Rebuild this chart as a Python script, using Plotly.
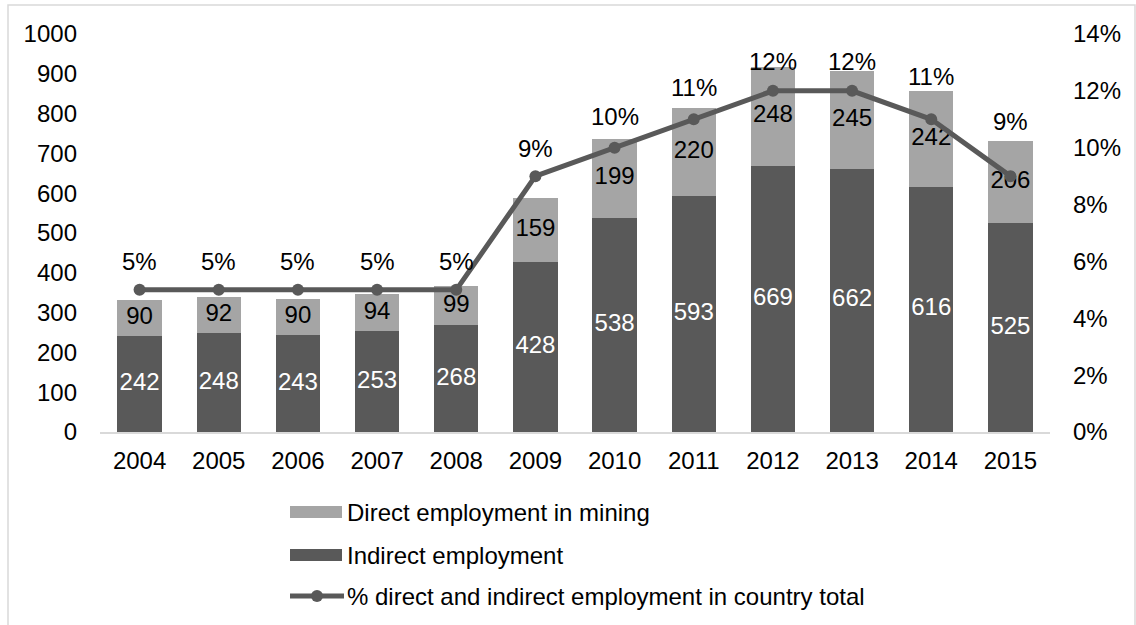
import plotly.graph_objects as go

years = ["2004", "2005", "2006", "2007", "2008", "2009", "2010", "2011", "2012", "2013", "2014", "2015"]
indirect = [242, 248, 243, 253, 268, 428, 538, 593, 669, 662, 616, 525]
direct = [90, 92, 90, 94, 99, 159, 199, 220, 248, 245, 242, 206]
share_pct = [5, 5, 5, 5, 5, 9, 10, 11, 12, 12, 11, 9]

name_direct = "Direct employment in mining"
name_indirect = "Indirect employment"
name_share = "% direct and indirect employment in country total"

# how far (px) each percentage label sits above its point
label_lift = [28, 28, 28, 28, 28, 28, 31, 32, 29, 29, 43, 55]

DARK = "#595959"
LIGHT = "#a5a5a5"
FONT = "Liberation Sans, Arial, sans-serif"
FS = 24

W, H = 1136, 625
L, R, T, B = 100, 86, 34, 193
PW = W - L - R
PH = H - T - B


def px(x):
    return (x - L) / PW


def py(y):
    return (H - B - y) / PH


fig = go.Figure()

fig.add_trace(go.Bar(x=years, y=indirect, name=name_indirect, marker_color=DARK,
                     marker_line_width=0, width=0.56, showlegend=False))
fig.add_trace(go.Bar(x=years, y=direct, name=name_direct, marker_color=LIGHT,
                     marker_line_width=0, width=0.56, showlegend=False))

share = [p / 100 for p in share_pct]
fig.add_trace(go.Scatter(x=years, y=share, yaxis="y2",
                         mode="lines+markers", name=name_share,
                         line=dict(color=DARK, width=5),
                         marker=dict(color=DARK, size=12),
                         showlegend=False))

# value labels centred in each stacked segment
fig.add_trace(go.Scatter(x=years, y=[v / 2 for v in indirect], mode="text",
                         text=[str(v) for v in indirect],
                         textfont=dict(color="white", size=FS, family=FONT),
                         showlegend=False, hoverinfo="skip"))
fig.add_trace(go.Scatter(x=years, y=[a + b / 2 for a, b in zip(indirect, direct)], mode="text",
                         text=[str(v) for v in direct],
                         textfont=dict(color="black", size=FS, family=FONT),
                         showlegend=False, hoverinfo="skip"))

fig.update_layout(
    width=W, height=H,
    margin=dict(l=L, r=R, t=T, b=B),
    barmode="stack",
    paper_bgcolor="white", plot_bgcolor="white",
    font=dict(family=FONT, size=FS, color="black"),
    xaxis=dict(type="category", range=[-0.5, len(years) - 0.5], showgrid=False,
               showline=True, linecolor="#d9d9d9",
               linewidth=2, ticks="", ticklabelstandoff=6, tickfont=dict(size=FS)),
    yaxis=dict(range=[0, 1000], dtick=100, showgrid=False, zeroline=False, showline=False,
               ticks="", ticklabelstandoff=22, tickfont=dict(size=FS)),
    yaxis2=dict(range=[0, 0.14], dtick=0.02, tickformat=".0%", overlaying="y", side="right",
                showgrid=False, zeroline=False, showline=False, ticks="",
                ticklabelstandoff=22, tickfont=dict(size=FS)),
    showlegend=False,
)

annotations = []
# percentage labels above the line points (category index on the x axis)
for i, (v, p, lift) in enumerate(zip(share, share_pct, label_lift)):
    annotations.append(dict(x=i, y=v, xref="x", yref="y2", text=f"{p}%",
                            showarrow=False, xanchor="center", yanchor="middle",
                            yshift=lift, font=dict(size=FS, color="black", family=FONT)))

shapes = []
# outer frame
shapes.append(dict(type="rect", xref="paper", yref="paper",
                   x0=px(8), x1=px(1135), y0=py(640), y1=py(5),
                   line=dict(color="#d9d9d9", width=1.5), fillcolor="rgba(0,0,0,0)", layer="below"))

# legend keys
legend_rows = [(name_direct, LIGHT, "bar", 512), (name_indirect, DARK, "bar", 555),
               (name_share, DARK, "line", 596)]
for label, color, kind, yc in legend_rows:
    if kind == "bar":
        shapes.append(dict(type="rect", xref="paper", yref="paper",
                           x0=px(290), x1=px(342), y0=py(yc + 6), y1=py(yc - 6),
                           fillcolor=color, line=dict(width=0)))
    else:
        shapes.append(dict(type="line", xref="paper", yref="paper",
                           x0=px(290), x1=px(344), y0=py(yc), y1=py(yc),
                           line=dict(color=color, width=5)))
        shapes.append(dict(type="circle", xref="paper", yref="paper",
                           x0=px(311), x1=px(323), y0=py(yc + 6), y1=py(yc - 6),
                           fillcolor=color, line=dict(width=0)))
    annotations.append(dict(xref="paper", yref="paper", x=px(345), y=py(yc),
                            xanchor="left", yanchor="middle", showarrow=False,
                            text=label, font=dict(size=FS, color="black", family=FONT)))

fig.update_layout(shapes=shapes, annotations=annotations)

fig.write_html("out.html")
